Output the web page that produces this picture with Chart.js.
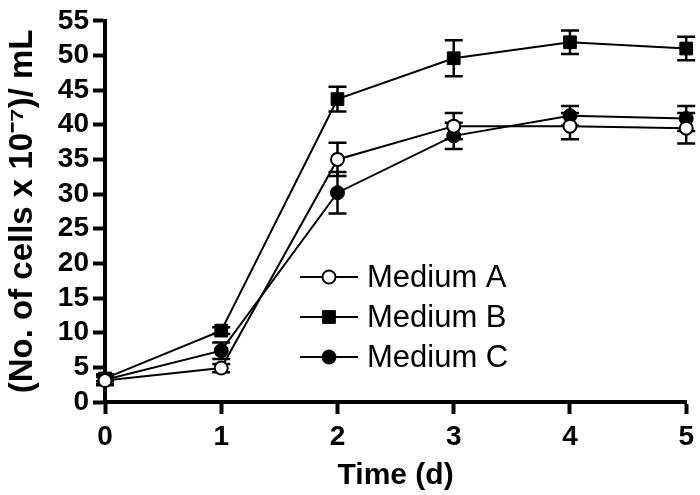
<!DOCTYPE html>
<html>
<head>
<meta charset="utf-8">
<script src="https://cdn.jsdelivr.net/npm/chart.js@4.4.1/dist/chart.umd.min.js"></script>
<style>
  html, body { margin: 0; padding: 0; background: #fff; }
  #wrap { width: 700px; height: 495px; }
</style>
</head>
<body>
<div id="wrap"><canvas id="growthChart" width="700" height="495"></canvas></div>
<script>
// time points (days)
const days = [0, 1, 2, 3, 4, 5];
const yTicks = [0, 5, 10, 15, 20, 25, 30, 35, 40, 45, 50, 55];

// cell counts (x 10^7 / mL) and error bars
const mediumA = [3.1, 4.9, 35.0, 39.8, 39.8, 39.5];
const mediumAErr = [0.5, 0.6, 2.4, 1.9, 1.9, 2.2];
const mediumB = [3.4, 10.3, 43.7, 49.6, 51.9, 51.0];
const mediumBErr = [0.4, 0.5, 1.8, 2.6, 1.7, 1.7];
const mediumC = [3.2, 7.4, 30.2, 38.4, 41.3, 40.9];
const mediumCErr = [0.8, 1.2, 3.0, 1.9, 1.4, 1.8];

const seriesNames = ['Medium A', 'Medium B', 'Medium C'];

const FONT = '"Liberation Sans", Arial, sans-serif';

function toPoints(vals) {
    return days.map((d, i) => ({ x: d, y: vals[i] }));
}

// error bars, drawn through the chart's own scales
const errorBarPlugin = {
    id: 'errorBars',
    beforeDatasetsDraw(chart) {
        const ctx = chart.ctx;
        const xs = chart.scales.x, ys = chart.scales.y;
        ctx.save();
        ctx.strokeStyle = '#000';
        ctx.lineWidth = 2.5;
        chart.data.datasets.forEach(ds => {
            ds.data.forEach((p, i) => {
                const e = ds.errors[i];
                const px = xs.getPixelForValue(p.x);
                const top = ys.getPixelForValue(p.y + e);
                const bot = ys.getPixelForValue(p.y - e);
                ctx.beginPath();
                ctx.moveTo(px, top); ctx.lineTo(px, bot);
                ctx.moveTo(px - 9, top); ctx.lineTo(px + 9, top);
                ctx.moveTo(px - 9, bot); ctx.lineTo(px + 9, bot);
                ctx.stroke();
            });
        });
        ctx.restore();
    }
};

// legend in the lower middle of the plot: line + marker + label
const insideLegend = {
    id: 'insideLegend',
    afterDatasetsDraw(chart) {
        const ctx = chart.ctx;
        const area = chart.chartArea;
        const x0 = area.left + 195, x1 = area.left + 253, xm = (x0 + x1) / 2;
        const rowY = [277, 317, 357];
        ctx.save();
        chart.data.datasets.forEach((ds, i) => {
            const y = rowY[i];
            ctx.strokeStyle = '#000';
            ctx.lineWidth = 2;
            ctx.beginPath();
            ctx.moveTo(x0, y); ctx.lineTo(x1, y);
            ctx.stroke();
            ctx.fillStyle = ds.pointBackgroundColor;
            ctx.beginPath();
            if (ds.pointStyle === 'rect') {
                const s = ds.pointRadius * Math.SQRT1_2;
                ctx.rect(xm - s, y - s, 2 * s, 2 * s);
            } else {
                ctx.arc(xm, y, ds.pointRadius, 0, Math.PI * 2);
            }
            ctx.fill();
            ctx.lineWidth = ds.pointBorderWidth;
            ctx.stroke();
            ctx.fillStyle = '#000';
            ctx.font = '31px ' + FONT;
            ctx.textBaseline = 'middle';
            ctx.fillText(ds.label, x1 + 9, y + 1);
        });
        ctx.restore();
    }
};

const ctx = document.getElementById('growthChart').getContext('2d');
new Chart(ctx, {
    type: 'line',
    data: {
        datasets: [
            { label: seriesNames[0], data: toPoints(mediumA), errors: mediumAErr, borderColor: '#000', borderWidth: 2,
              pointStyle: 'circle', pointRadius: 6.5, pointBackgroundColor: '#fff', pointBorderColor: '#000', pointBorderWidth: 2, clip: false },
            { label: seriesNames[1], data: toPoints(mediumB), errors: mediumBErr, borderColor: '#000', borderWidth: 2,
              pointStyle: 'rect', pointRadius: 9, pointBackgroundColor: '#000', pointBorderColor: '#000', pointBorderWidth: 1, clip: false },
            { label: seriesNames[2], data: toPoints(mediumC), errors: mediumCErr, borderColor: '#000', borderWidth: 2,
              pointStyle: 'circle', pointRadius: 7, pointBackgroundColor: '#000', pointBorderColor: '#000', pointBorderWidth: 1, clip: false }
        ]
    },
    options: {
        responsive: false,
        animation: false,
        layout: { padding: { top: 14, right: 13, left: 0, bottom: 0 } },
        plugins: { legend: { display: false }, tooltip: { enabled: false } },
        scales: {
            x: {
                type: 'linear', min: 0, max: 5,
                afterFit: s => { s.height = 93; },
                afterBuildTicks: s => { s.ticks = days.map(v => ({ value: v })); },
                grid: { drawOnChartArea: false, drawTicks: true, tickLength: 12, tickWidth: 4, tickColor: '#000' },
                border: { display: true, color: '#000', width: 4 },
                ticks: { color: '#000', padding: 6, autoSkip: false, maxRotation: 0,
                         font: { family: FONT, size: 28, weight: 'bold' } },
                title: { display: true, text: 'Time (d)', color: '#000', padding: { top: 0, bottom: 4 },
                         font: { family: FONT, size: 30, weight: 'bold', lineHeight: 1 } }
            },
            y: {
                min: 0, max: 55,
                afterFit: s => { s.width = 105; },
                afterBuildTicks: s => { s.ticks = yTicks.map(v => ({ value: v })); },
                grid: { drawOnChartArea: false, drawTicks: true, tickLength: 12, tickWidth: 4, tickColor: '#000' },
                border: { display: true, color: '#000', width: 4 },
                ticks: { color: '#000', padding: 4, autoSkip: false,
                         font: { family: FONT, size: 28, weight: 'bold' } },
                title: { display: true, text: '(No. of cells x 10\u207B\u2077)/ mL', color: '#000', padding: { top: 6, bottom: 0 },
                         font: { family: FONT, size: 33, weight: 'bold', lineHeight: 1 } }
            }
        }
    },
    plugins: [errorBarPlugin, insideLegend]
});
</script>
</body>
</html>
